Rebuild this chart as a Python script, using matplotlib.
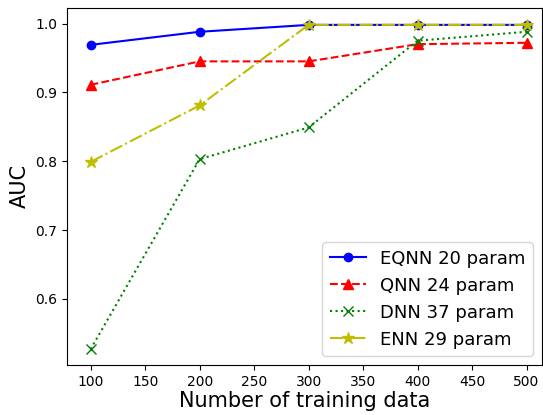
import matplotlib
matplotlib.use("Agg")
import matplotlib.pyplot as plt

x = [100, 200, 300, 400, 500]
eqnn = [0.969, 0.988, 0.998, 0.998, 0.998]
qnn = [0.911, 0.945, 0.945, 0.970, 0.972]
dnn = [0.527, 0.803, 0.849, 0.975, 0.988]
enn = [0.799, 0.881, 0.998, 0.998, 0.998]
labels = ["EQNN 20 param", "QNN 24 param", "DNN 37 param", "ENN 29 param"]

fig = plt.figure(figsize=(5.43, 4.15), dpi=100)
ax = fig.add_axes([0.1228, 0.1205, 0.875, 0.861])
ax.plot(x, eqnn, 'b-o', label=labels[0])
ax.plot(x, qnn, 'r--^', markersize=7, label=labels[1])
ax.plot(x, dnn, 'g:x', markersize=7, label=labels[2])
ax.plot(x, enn, 'y-.*', markersize=9, label=labels[3])
ax.set_xlim(78, 514)
ax.set_ylim(0.504, 1.023)
ax.set_xticks([100, 150, 200, 250, 300, 350, 400, 450, 500])
ax.set_yticks([0.6, 0.7, 0.8, 0.9, 1.0])
ax.tick_params(labelsize=10)
ax.set_xlabel("Number of training data", fontsize=15, labelpad=2)
ax.set_ylabel("AUC", fontsize=15)
ax.legend(loc="lower right", fontsize=13)
fig.savefig("out.png", dpi=100)
